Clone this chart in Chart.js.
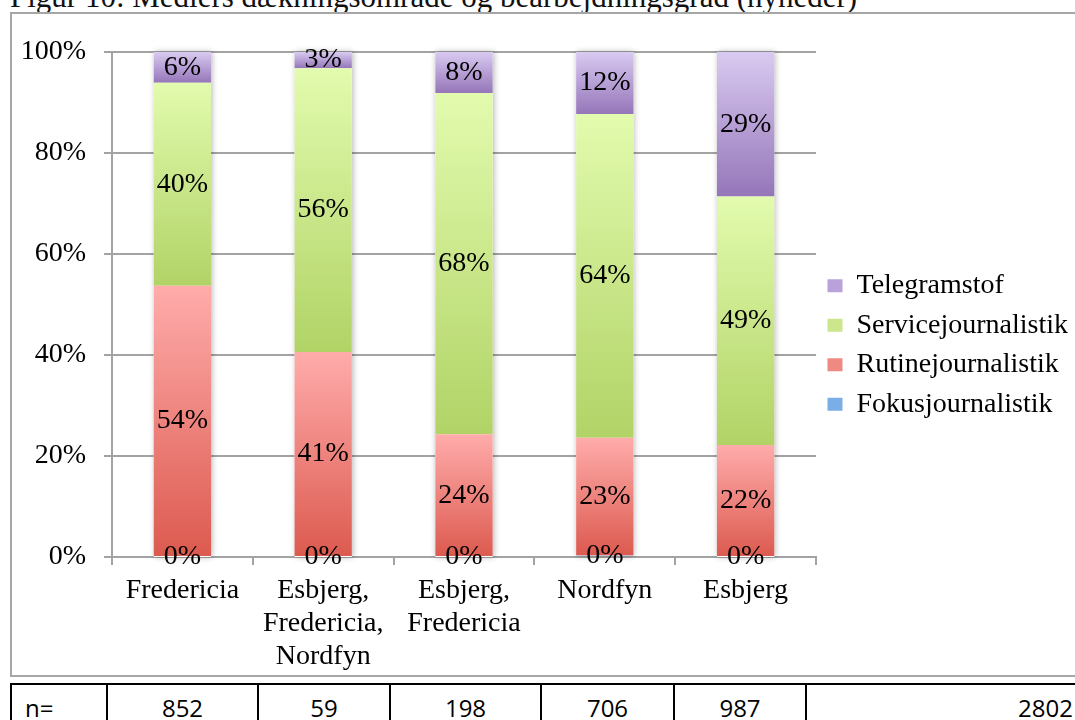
<!DOCTYPE html>
<html lang="da">
<head>
<meta charset="utf-8">
<title>Figur 10: Mediers dækningsområde og bearbejdningsgrad (nyheder)</title>
<script src="https://cdn.jsdelivr.net/npm/chart.js@4.4.1/dist/chart.umd.min.js"></script>
<style>
    html, body { margin: 0; padding: 0; background: #fff; width: 1075px; height: 720px; overflow: hidden; }
    #title { position: absolute; left: 10px; top: -19px; font: 31px/31px "Liberation Serif", serif; color: #111; white-space: nowrap; }
    #frame { position: absolute; left: 10px; top: 12px; width: 1100px; height: 661px; border: 2px solid #a6a6a6; border-right: none; }
    #chart { position: absolute; left: 12px; top: 14px; }
    #ntable { position: absolute; left: 10px; top: 683px; width: 1100px; border-collapse: collapse; table-layout: fixed; font: 24px "Open Sans", sans-serif; color: #000; }
    #ntable td { border: 2px solid #000; height: 44px; padding: 0; text-align: center; white-space: nowrap; overflow: hidden; }
    #ntable td.lead { text-align: left; padding-left: 13px; }
    #ntable td.total { text-align: right; padding-right: 38px; border-right: none; }
</style>
</head>
<body>
<div id="title">Figur 10: Mediers dækningsområde og bearbejdningsgrad (nyheder)</div>
<div id="frame"></div>
<canvas id="chart"></canvas>
<table id="ntable"><colgroup id="ncols"></colgroup><tr id="nrow"></tr></table>

<script type="text/javascript">

    // data (percent of items per media coverage area)
    const categories = ['Fredericia', ['Esbjerg,', 'Fredericia,', 'Nordfyn'], ['Esbjerg,', 'Fredericia'], 'Nordfyn', 'Esbjerg'];
    const seriesNames = ['Fokusjournalistik', 'Rutinejournalistik', 'Servicejournalistik', 'Telegramstof'];
    const fokus = [0, 0, 0, 0.3, 0];
    const rutine = [53.7, 40.6, 24.3, 23.3, 22.2];
    const service = [40.2, 56.2, 67.6, 64.1, 49.2];
    const telegram = [6.1, 3.2, 8.1, 12.3, 28.6];
    const yTicks = [0, 20, 40, 60, 80, 100];
    const nValues = [852, 59, 198, 706, 987];
    const nTotal = 2802;

    const family = '"Liberation Serif", serif';
    const fontSize = 28;
    const gridColor = '#a3a3a3';
    const shades = [
        ['#aacbf3', '#4b8dd6'],
        ['#ffacab', '#dc5a4f'],
        ['#e2fbae', '#b1d366'],
        ['#d9caf1', '#9576b9']
    ];
    const legendColors = ['#7aaee6', '#ee8a82', '#cbe68c', '#b9a2da'];

    // n= row
    const cols = document.getElementById('ncols');
    const row = document.getElementById('nrow');
    const colWidths = [96, 151, 132, 151, 133, 132, 305];
    ['n='].concat(nValues, [nTotal]).forEach((v, i) => {
        const col = document.createElement('col');
        col.style.width = colWidths[i] + 'px';
        cols.appendChild(col);
        const td = document.createElement('td');
        td.textContent = v;
        if (i === 0) td.className = 'lead';
        if (i === colWidths.length - 1) td.className = 'total';
        row.appendChild(td);
    });

    function segmentFill(light, dark) {
        return function (c) {
            const chart = c.chart;
            if (!chart.chartArea || c.dataIndex === undefined) return dark;
            const y = chart.scales.y;
            let start = 0;
            for (let d = 0; d < c.datasetIndex; d++) start += chart.data.datasets[d].data[c.dataIndex];
            const end = start + chart.data.datasets[c.datasetIndex].data[c.dataIndex];
            const top = y.getPixelForValue(end);
            const bottom = y.getPixelForValue(start);
            if (bottom - top < 1) return dark;
            const g = chart.ctx.createLinearGradient(0, top, 0, bottom);
            g.addColorStop(0, light);
            g.addColorStop(1, dark);
            return g;
        };
    }

    // soft shadow behind every whole stack
    const barShadow = {
        id: 'barShadow',
        beforeDatasetsDraw(chart) {
            const ctx = chart.ctx;
            const metas = chart.getSortedVisibleDatasetMetas();
            ctx.save();
            ctx.shadowColor = 'rgba(0,0,0,0.3)';
            ctx.shadowBlur = 6;
            ctx.shadowOffsetX = 1;
            ctx.shadowOffsetY = 0;
            ctx.fillStyle = '#fff';
            for (let i = 0; i < chart.data.labels.length; i++) {
                let top = Infinity, bottom = -Infinity, x = 0, w = 0;
                metas.forEach(m => {
                    const el = m.data[i];
                    top = Math.min(top, el.y, el.base);
                    bottom = Math.max(bottom, el.y, el.base);
                    x = el.x;
                    w = el.width;
                });
                ctx.fillRect(x - w / 2, top, w, bottom - top);
            }
            ctx.restore();
        }
    };

    // percentage labels in the middle of each segment
    const segmentLabels = {
        id: 'segmentLabels',
        afterDatasetsDraw(chart) {
            const ctx = chart.ctx;
            ctx.save();
            ctx.font = fontSize + 'px ' + family;
            ctx.fillStyle = '#000';
            ctx.textAlign = 'center';
            ctx.textBaseline = 'middle';
            chart.getSortedVisibleDatasetMetas().forEach(meta => {
                const values = chart.data.datasets[meta.index].data;
                meta.data.forEach((el, i) => {
                    ctx.fillText(Math.round(values[i]) + '%', el.x, (el.y + el.base) / 2);
                });
            });
            ctx.restore();
        }
    };

    // size the canvas so the legend starts right after the plot
    const measure = document.createElement('canvas').getContext('2d');
    measure.font = fontSize + 'px ' + family;
    const longest = Math.max(...seriesNames.map(s => measure.measureText(s).width));
    const legendPad = 11.5, boxW = 15;
    const legendLeft = 802;
    const canvas = document.getElementById('chart');
    canvas.width = Math.ceil(legendLeft + 2 * legendPad + boxW + fontSize / 2 + longest);
    canvas.height = 662;

    Chart.defaults.font.family = family;
    Chart.defaults.font.size = fontSize;
    Chart.defaults.color = '#000';

    new Chart(canvas, {
        type: 'bar',
        data: {
            labels: categories,
            datasets: [fokus, rutine, service, telegram].map((vals, i) => ({
                label: seriesNames[i],
                data: vals,
                backgroundColor: segmentFill(shades[i][0], shades[i][1]),
                borderWidth: 0,
                barPercentage: 0.407,
                categoryPercentage: 1
            }))
        },
        options: {
            responsive: false,
            animation: false,
            layout: { padding: 0 },
            scales: {
                x: {
                    stacked: true,
                    grid: { display: true, drawOnChartArea: false, tickLength: 8, color: gridColor, lineWidth: 2 },
                    border: { color: gridColor, width: 2 },
                    ticks: { padding: 9.5, color: '#000', font: { size: fontSize, lineHeight: 1.18 } },
                    afterFit(s) { s.height = 119; }
                },
                y: {
                    stacked: true,
                    min: 0,
                    max: 100,
                    afterBuildTicks(s) { s.ticks = yTicks.map(v => ({ value: v })); },
                    ticks: { padding: 18, color: '#000', callback: v => v + '%' },
                    grid: { color: gridColor, lineWidth: 2, tickLength: 8 },
                    border: { color: gridColor, width: 2 },
                    afterFit(s) { s.width = 100; }
                }
            },
            plugins: {
                tooltip: { enabled: false },
                // empty spacer above the plot; it is not full width so the legend keeps the whole height
                title: {
                    display: true,
                    fullSize: false,
                    text: ' ',
                    font: { size: 10, lineHeight: 1 },
                    padding: { top: 14, bottom: 14 }
                },
                legend: {
                    position: 'right',
                    reverse: true,
                    labels: {
                        boxWidth: boxW,
                        boxHeight: 13,
                        padding: legendPad,
                        color: '#000',
                        font: { size: fontSize, family: family },
                        generateLabels(chart) {
                            return chart.data.datasets.map((ds, i) => ({
                                text: ds.label,
                                fillStyle: legendColors[i],
                                strokeStyle: legendColors[i],
                                lineWidth: 0,
                                datasetIndex: i,
                                hidden: false
                            }));
                        }
                    }
                }
            }
        },
        plugins: [barShadow, segmentLabels]
    });

</script>
</body>
</html>
